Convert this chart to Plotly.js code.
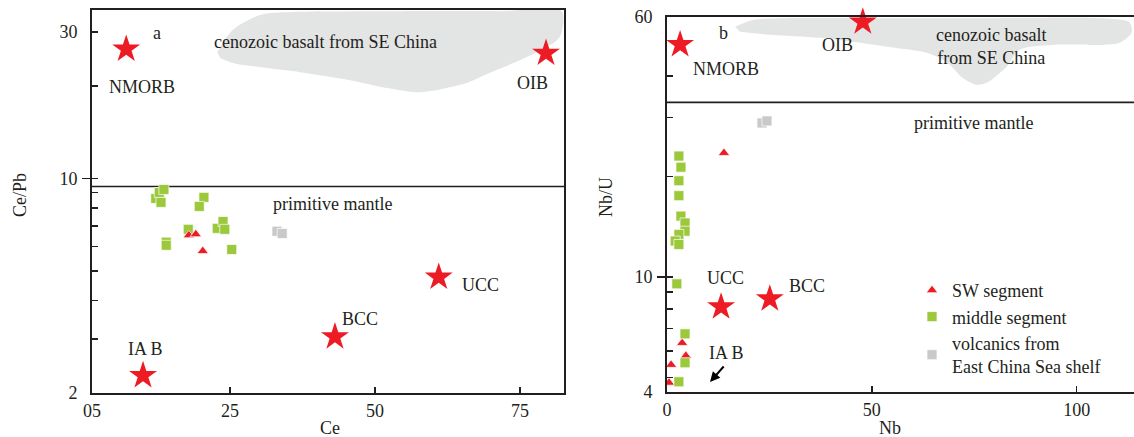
<!DOCTYPE html>
<html>
<head>
<meta charset="utf-8">
<script src="https://cdn.plot.ly/plotly-3.0.1.min.js"></script>
<style>html,body{margin:0;padding:0;background:#fff;}#chart{width:1134px;height:437px;}</style>
</head>
<body>
<div id="chart"></div>
<script>
// ---------- Panel a: Ce vs Ce/Pb ----------
const swCe   = [17.9, 19.1, 20.3];
const swCePb = [6.53, 6.58, 5.80];
const midCe   = [12.2, 12.8, 13.6, 13.1, 20.5, 19.7, 17.8, 14.0, 14.0, 22.8, 23.8, 24.1, 25.3];
const midCePb = [8.61, 9.00, 9.21, 8.36, 8.68, 8.11, 6.83, 6.20, 6.06, 6.88, 7.24, 6.83, 5.87];
const ecsCe   = [33.1, 34.0];
const ecsCePb = [6.73, 6.62];
const refNamesA = ["NMORB", "OIB", "UCC", "BCC", "IAB"];
const refCe     = [7.1, 79.5, 61.0, 43.1, 10.0];
const refCePb   = [26.4, 25.6, 4.77, 3.05, 2.28];
const pmCePb = 9.42;
const basaltCe   = [22.8, 25.5, 30.2, 34.1, 54.3, 71.6, 82.2, 82.2, 81.4, 77.9, 75.0, 69.8, 65.9, 61.2, 57.2, 52.1, 45.7, 37.1, 31.4, 25.5, 23.3];
const basaltCePb = [25.8, 30.5, 34.1, 34.8, 35.1, 35.1, 35.1, 30.0, 28.2, 25.8, 24.3, 22.1, 20.5, 19.5, 19.1, 19.7, 20.9, 22.2, 22.9, 23.8, 24.7];
const xRangeA = [1.2, 82.6];
const yRangeA = [2, 35.4];
const xTickValsA = [1.2, 25, 50, 75];
const xTickTextA = ["05", "25", "50", "75"];
const yTickValsA = [2, 3, 4, 5, 6, 7, 8, 9, 10, 20, 30];
const yTickTextA = ["2", "", "", "", "", "", "", "", "10", "", "30"];

// ---------- Panel b: Nb vs Nb/U ----------
const swNb  = [13.9, 3.7, 4.6, 1.0, 0.5];
const swNbU = [23.5, 6.34, 5.80, 5.45, 4.82];
const midNb  = [2.9, 3.4, 2.9, 2.9, 3.4, 4.4, 4.4, 2.9, 2.0, 2.9, 2.4, 4.4, 4.4, 2.9];
const midNbU = [23.0, 21.3, 19.4, 17.5, 15.2, 14.5, 13.7, 13.4, 12.8, 12.5, 9.53, 6.75, 5.53, 4.85];
const ecsNb  = [23.2, 24.4];
const ecsNbU = [28.9, 29.3];
const refNamesB = ["NMORB", "OIB", "UCC", "BCC"];
const refNb  = [3.2, 47.8, 13.2, 25.1];
const refNbU = [49.6, 58.0, 8.13, 8.59];
const pmNbU = 33.3;
const basaltNb  = [16.6, 21.0, 27.6, 56.8, 81.2, 105.6, 112.9, 113.4, 110.5, 106.3, 94.1, 86.1, 82.9, 78.0, 75.6, 72.2, 68.3, 63.4, 53.7, 45.4, 37.3, 25.1, 17.8];
const basaltNbU = [56.1, 58.8, 59.5, 59.5, 59.5, 59.5, 57.9, 53.8, 50.2, 49.5, 49.5, 47.9, 42.6, 38.1, 37.6, 39.4, 44.0, 46.9, 48.9, 50.6, 52.0, 53.1, 54.2];
const xRangeB = [0, 114];
const yRangeB = [4.52, 60];
const xTickValsB = [0, 50, 100];
const xTickTextB = ["0", "50", "100"];
const yTickValsB = [4.52, 5, 6, 7, 8, 9, 10, 20, 30, 40, 60];
const yTickTextB = ["4", "", "", "", "", "", "10", "", "", "", "60"];
const outerTickVals = [10];

// ---------- styling ----------
const W = 1134, H = 437;
const FONT = "'Liberation Serif', 'Times New Roman', 'DejaVu Serif', serif";
const INK = "#231f20";
const RED = "#ed1c24", GREEN = "#9cc83c", GREY = "#c9c9c9", BLOB = "#e3e4e4";
const px = x => x / W;
const py = y => 1 - y / H;

function pts(x, y, xa, ya, sym, color, size, name, legend) {
  return {type: "scatter", mode: "markers", x: x, y: y, xaxis: xa, yaxis: ya, name: name,
    legendgroup: name, showlegend: legend, hoverinfo: "skip",
    marker: {symbol: sym, color: color, size: size, line: {color: "rgba(255,255,255,0.7)", width: 1}}};
}
function blob(x, y, xa, ya) {
  return {type: "scatter", mode: "lines", x: x, y: y, xaxis: xa, yaxis: ya, fill: "toself",
    fillcolor: BLOB, line: {width: 0, shape: "spline", smoothing: 0.8, color: BLOB},
    showlegend: false, hoverinfo: "skip"};
}
function hline(xr, v, xa, ya) {
  return {type: "scatter", mode: "lines", x: xr, y: [v, v], xaxis: xa, yaxis: ya,
    line: {color: INK, width: 1.6}, showlegend: false, hoverinfo: "skip"};
}
function stars(x, y, xa, ya) {
  return {type: "scatter", mode: "markers", x: x, y: y, xaxis: xa, yaxis: ya, showlegend: false,
    hoverinfo: "skip", cliponaxis: false, marker: {symbol: "star", color: RED, size: 21, line: {width: 0}}};
}

const traces = [
  blob(basaltCe, basaltCePb, "x", "y"),
  blob(basaltNb, basaltNbU, "x2", "y2"),
  hline(xRangeA, pmCePb, "x", "y"),
  hline(xRangeB, pmNbU, "x2", "y2"),
  pts(midCe, midCePb, "x", "y", "square", GREEN, 10, "middle segment", false),
  pts(ecsCe, ecsCePb, "x", "y", "square", GREY, 10, "volcanics from<br>East China Sea shelf", false),
  pts(swCe, swCePb, "x", "y", "triangle-up", RED, 10, "SW segment", false),
  pts(swNb, swNbU, "x2", "y2", "triangle-up", RED, 10, "SW segment", true),
  pts(midNb, midNbU, "x2", "y2", "square", GREEN, 10, "middle segment", true),
  pts(ecsNb, ecsNbU, "x2", "y2", "square", GREY, 10, "volcanics from<br>East China Sea shelf", true),
  stars(refCe, refCePb, "x", "y"),
  stars(refNb, refNbU, "x2", "y2")
];

const axCommon = {showline: true, linecolor: INK, linewidth: 2, ticks: "inside", ticklen: 6,
  tickwidth: 1.6, tickcolor: INK, showgrid: false, zeroline: false, automargin: false,
  tickfont: {family: FONT, size: 18, color: INK}};
const log10 = Math.log10;

function lab(text, x, y, extra) {
  return Object.assign({text: text, xref: "paper", yref: "paper", x: px(x), y: py(y),
    xanchor: "center", yanchor: "middle", showarrow: false,
    font: {family: FONT, size: 18, color: INK}}, extra || {});
}

const yRangeALog = [log10(yRangeA[0]), log10(yRangeA[1])];
const yRangeBLog = [log10(yRangeB[0]), log10(yRangeB[1])];

const layout = {
  width: W, height: H, margin: {l: 0, r: 0, t: 0, b: 0},
  paper_bgcolor: "#fff", plot_bgcolor: "rgba(0,0,0,0)",
  font: {family: FONT, size: 18, color: INK},
  xaxis: Object.assign({}, axCommon, {domain: [px(92), px(564)], range: xRangeA, mirror: true,
    tickvals: xTickValsA, ticktext: xTickTextA, anchor: "y"}),
  yaxis: Object.assign({}, axCommon, {domain: [py(393), py(10)], type: "log",
    range: yRangeALog, mirror: true, ticklabelstandoff: 9,
    tickvals: yTickValsA, ticktext: yTickTextA, anchor: "x"}),
  yaxis3: {overlaying: "y", anchor: "x", side: "left", type: "log", range: yRangeALog,
    showline: false, showgrid: false, zeroline: false, showticklabels: false,
    ticks: "outside", ticklen: 9, tickwidth: 1.6, tickcolor: INK, tickvals: outerTickVals},
  xaxis2: Object.assign({}, axCommon, {domain: [px(667), 1], range: xRangeB, mirror: true,
    tickvals: xTickValsB, ticktext: xTickTextB, anchor: "y2"}),
  yaxis2: Object.assign({}, axCommon, {domain: [py(392), py(17)], type: "log",
    range: yRangeBLog, ticklabelstandoff: 9,
    tickvals: yTickValsB, ticktext: yTickTextB, anchor: "x2"}),
  yaxis4: {overlaying: "y2", anchor: "x2", side: "left", type: "log", range: yRangeBLog,
    showline: false, showgrid: false, zeroline: false, showticklabels: false,
    ticks: "outside", ticklen: 9, tickwidth: 1.6, tickcolor: INK, tickvals: outerTickVals},
  showlegend: true,
  legend: {x: px(912), y: py(272), xanchor: "left", yanchor: "top", bgcolor: "rgba(0,0,0,0)",
    font: {family: FONT, size: 18, color: INK}, itemwidth: 30, tracegroupgap: 0, traceorder: "normal"},
  annotations: [
    lab("a", 157, 33),
    lab("NMORB", 142, 87),
    lab("cenozoic basalt from SE China", 325, 42),
    lab("OIB", 532, 83),
    lab("primitive mantle", 332, 204),
    lab("UCC", 480, 285),
    lab("BCC", 360, 319),
    lab("IA B", 145, 349),
    lab("Ce/Pb", 20, 195, {textangle: -90}),
    lab("Ce", 330, 428),
    lab("b", 723, 33),
    lab("NMORB", 726, 69),
    lab("OIB", 837, 45),
    lab("cenozoic basalt<br>from SE China", 991, 46),
    lab("primitive mantle", 973, 123),
    lab("UCC", 725, 278),
    lab("BCC", 807, 286),
    lab("IA B", 726, 353),
    lab("Nb/U", 606, 197, {textangle: -90}),
    lab("Nb", 890, 428),
    {text: "", xref: "paper", yref: "paper", x: px(710), y: py(382), ax: 15, ay: -17,
     showarrow: true, arrowhead: 2, arrowsize: 1, arrowwidth: 2, arrowcolor: "#000"}
  ]
};

// dummy invisible traces so the overlay axes are rendered
traces.push({type: "scatter", mode: "markers", x: [], y: [], xaxis: "x", yaxis: "y3", showlegend: false, hoverinfo: "skip"});
traces.push({type: "scatter", mode: "markers", x: [], y: [], xaxis: "x2", yaxis: "y4", showlegend: false, hoverinfo: "skip"});

Plotly.newPlot("chart", traces, layout, {staticPlot: true, displayModeBar: false});
</script>
</body>
</html>
